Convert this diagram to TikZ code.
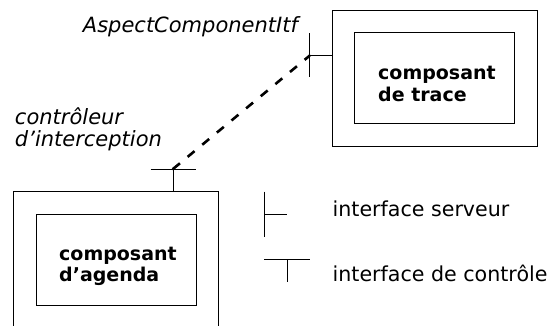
\documentclass[tikz,border=0pt]{standalone}
\usepackage{fontspec}
\setmainfont{DejaVu Sans}
\begin{document}
\begin{tikzpicture}[x=1pt,y=-1pt,
  box/.style={draw=black,line width=1pt},
  itf/.style={draw=black,line width=0.9pt},
  bind/.style={draw=black,line width=2.6pt,dash pattern=on 9pt off 10pt},
  lbl/.style={anchor=base west,inner sep=0pt,font=\fontsize{20.6}{24}\selectfont},
  ital/.style={anchor=base west,inner sep=0pt,align=left,font=\fontsize{21}{22}\selectfont\itshape},
  comp/.style={anchor=base west,inner sep=0pt,align=left,font=\fontsize{19}{21.7}\selectfont\bfseries}]
\useasboundingbox (0,0) rectangle (550,325);
\clip (0,0) rectangle (550,325);

% trace component (membrane and content)
\coordinate (tO1) at (332.5,10);   \coordinate (tO2) at (537,146);
\coordinate (tI1) at (354.5,32.5); \coordinate (tI2) at (514.5,123.5);
\draw[box] (tO1) rectangle (tO2);
\draw[box] (tI1) rectangle (tI2);
% multi-line nodes: the base anchor sits on the last line
\node[comp] (trace) at (378,101) {composant\\de trace};

% server interface of the trace component
\coordinate (sT) at (309.6,33.3);  \coordinate (sB) at (309.6,77.3);
\coordinate (sJ) at (309.6,55.7);  \coordinate (sE) at (332.5,55.7);
\draw[itf] (sT) -- (sB);
\draw[itf] (sJ) -- (sE);
\node[ital] (aci) at (82.7,32.5) {AspectComponentItf};

% agenda component (membrane and content)
\coordinate (aO1) at (13.4,191.7); \coordinate (aO2) at (218,340);
\coordinate (aI1) at (36,214.3);   \coordinate (aI2) at (196,305);
\draw[box] (aO1) rectangle (aO2);
\draw[box] (aI1) rectangle (aI2);
\node[comp] (agenda) at (59,281.7) {composant\\d’agenda};

% control interface of the agenda component
\coordinate (cL) at (150.6,169);   \coordinate (cR) at (196,169);
\coordinate (cJ) at (173,169);     \coordinate (cB) at (173,191.7);
\draw[itf] (cL) -- (cR);
\draw[itf] (cJ) -- (cB);
\node[ital] (ctl) at (14.8,146) {contrôleur\\d’interception};

% binding between the two interfaces
\draw[bind] (cJ) -- (sJ);
\fill (cJ) circle (1.4pt);
\fill (sJ) circle (1.4pt);

% legend
\coordinate (lsT) at (264,191.7);  \coordinate (lsB) at (264,236.7);
\coordinate (lsJ) at (264,214.3);  \coordinate (lsE) at (287,214.3);
\draw[itf] (lsT) -- (lsB);
\draw[itf] (lsJ) -- (lsE);
\node[lbl] (lserv) at (332.5,216.7) {interface serveur};

\coordinate (lcL) at (264,259);    \coordinate (lcR) at (309.6,259);
\coordinate (lcJ) at (287,259);    \coordinate (lcB) at (287,281.7);
\draw[itf] (lcL) -- (lcR);
\draw[itf] (lcJ) -- (lcB);
\node[lbl] (lctl) at (332.5,281.7) {interface de contrôle};
\end{tikzpicture}
\end{document}
